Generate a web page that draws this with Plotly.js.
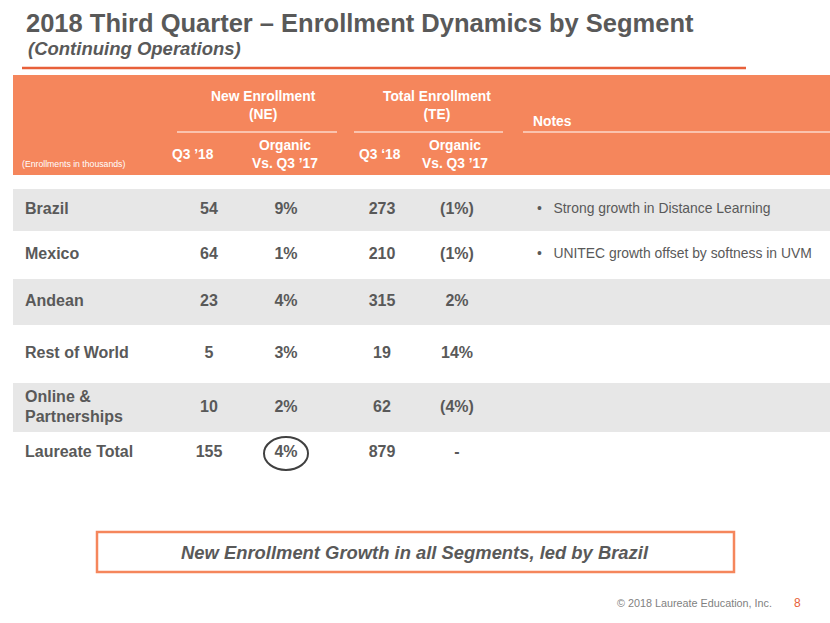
<!DOCTYPE html>
<html>
<head>
<meta charset="utf-8">
<script src="https://cdn.plot.ly/plotly-3.0.1.min.js"></script>
<style>
html,body{margin:0;padding:0;background:#fff;}
#chart{width:830px;height:623px;}
</style>
</head>
<body>
<div id="chart"></div>
<script>
// ---- data ----
const segments = ["Brazil", "Mexico", "Andean", "Rest of World", "Online &<br>Partnerships", "Laureate Total"];
const neQ3 = [54, 64, 23, 5, 10, 155];
const neOrganic = ["9%", "1%", "4%", "3%", "2%", "4%"];
const teQ3 = [273, 210, 315, 19, 62, 879];
const teOrganic = ["(1%)", "(1%)", "2%", "14%", "(4%)", "-"];
const notes = ["•   Strong growth in Distance Learning", "•   UNITEC growth offset by softness in UVM", "", "", "", ""];

// ---- layout helpers ----
const rowY = [210, 255, 302, 354, 408, 453];
const bands = [[189, 231], [279, 325], [383, 432]];
const gray = "#595959";
const orange = "#F5865C";
const FONT = "Liberation Sans, Arial, sans-serif";

function col(x, texts, opts) {
  return {
    type: "scatter", mode: "text", x: texts.map(() => x), y: rowY,
    text: texts.map(String), textposition: opts.pos || "middle center",
    textfont: {family: FONT, size: opts.size || 16, color: gray, weight: opts.weight || "bold"},
    hoverinfo: "skip", cliponaxis: false
  };
}

const traces = [
  col(25, segments, {pos: "middle right"}),
  col(209, neQ3, {}),
  col(286, neOrganic, {}),
  col(382, teQ3, {}),
  col(457, teOrganic, {}),
  col(537, notes, {pos: "middle right", size: 13.9, weight: "normal"})
];

const shapes = [];
// title underline
shapes.push({type: "line", xref: "x", yref: "y", x0: 22, x1: 746, y0: 68, y1: 68, line: {color: "#E8603A", width: 2.5}});
// header block
shapes.push({type: "rect", x0: 13, x1: 830, y0: 75, y1: 175, fillcolor: orange, line: {width: 0}, layer: "below"});
// header white rules
[[177, 337], [354, 503], [523, 830]].forEach(r => shapes.push({type: "line", x0: r[0], x1: r[1], y0: 132, y1: 132, line: {color: "#ffffff", width: 1.2}}));
// row bands
bands.forEach(b => shapes.push({type: "rect", x0: 13, x1: 830, y0: b[0], y1: b[1], fillcolor: "#E7E7E7", line: {width: 0}, layer: "below"}));
// circle around total organic NE
shapes.push({type: "circle", x0: 264, x1: 308, y0: 437, y1: 470, line: {color: "#404040", width: 2}});
// bottom callout box
shapes.push({type: "rect", x0: 97, x1: 734, y0: 532, y1: 572, line: {color: orange, width: 2.5}, fillcolor: "rgba(0,0,0,0)"});

function ann(x, y, text, o) {
  return Object.assign({xref: "x", yref: "y", x: x, y: y, text: text, showarrow: false,
    xanchor: "center", yanchor: "middle",
    font: {family: FONT, size: 13.8, color: "#ffffff", weight: "bold"}}, o || {});
}

const annotations = [
  ann(26, 48, "<i>(Continuing Operations)</i>", {xanchor: "left", font: {family: FONT, size: 18.5, color: gray, weight: "bold"}}),
  ann(263, 105, "New Enrollment<br>(NE)"),
  ann(437, 105, "Total Enrollment<br>(TE)"),
  ann(531, 121, "Notes", {xanchor: "left"}),
  ann(20, 164, "(Enrollments in thousands)", {xanchor: "left", font: {family: FONT, size: 8.7, color: "#ffffff"}}),
  ann(193, 154, "Q3 ’18"),
  ann(285, 154, "Organic<br>Vs. Q3 ’17"),
  ann(380, 154, "Q3 ‘18"),
  ann(455, 154, "Organic<br>Vs. Q3 ’17"),
  ann(415, 552, "<i>New Enrollment Growth in all Segments, led by Brazil</i>", {font: {family: FONT, size: 18.4, color: gray, weight: "bold"}}),
  ann(774, 603, "© 2018 Laureate Education, Inc.", {xanchor: "right", font: {family: FONT, size: 10.8, color: "#7f7f7f"}}),
  ann(797, 603, "8", {font: {family: FONT, size: 12, color: "#E8603A"}})
];

const layout = {
  width: 830, height: 623,
  margin: {l: 0, r: 0, t: 0, b: 0},
  paper_bgcolor: "#ffffff", plot_bgcolor: "#ffffff",
  showlegend: false, hovermode: false,
  title: {text: "2018 Third Quarter – Enrollment Dynamics by Segment", x: 26 / 830, xanchor: "left",
    y: 1 - 23 / 623, yanchor: "middle", yref: "container",
    font: {family: FONT, size: 25.5, color: gray, weight: "bold"}},
  xaxis: {range: [0, 830], visible: false, fixedrange: true},
  yaxis: {range: [623, 0], visible: false, fixedrange: true},
  shapes: shapes,
  annotations: annotations
};

Plotly.newPlot("chart", traces, layout, {staticPlot: true, displayModeBar: false});
</script>
</body>
</html>
